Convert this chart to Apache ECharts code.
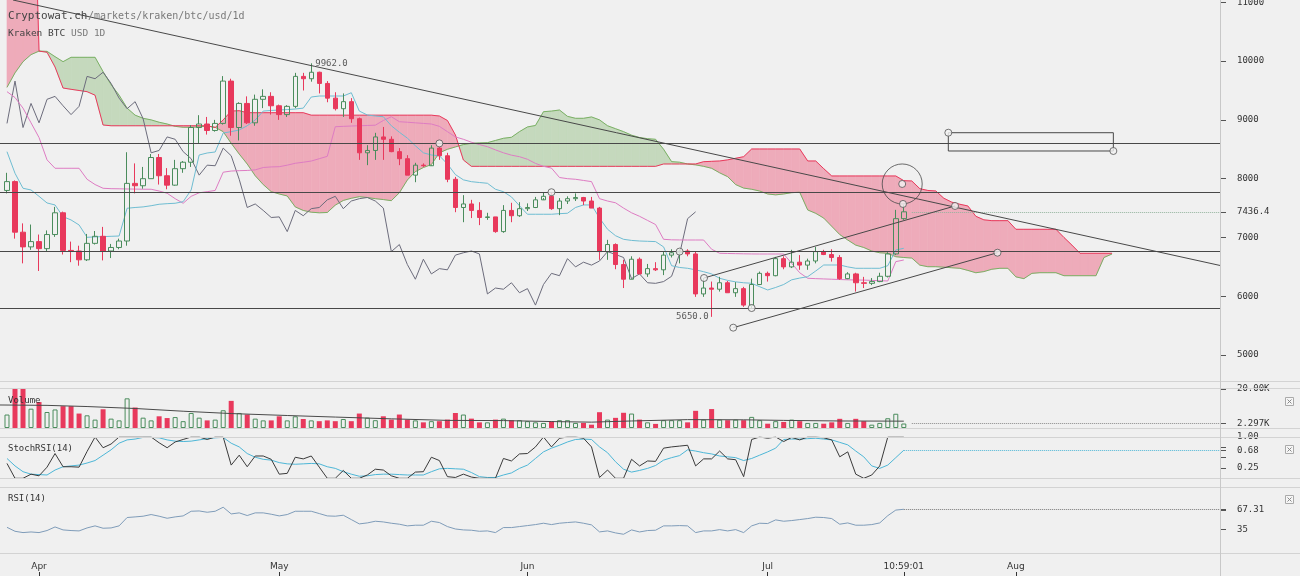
<!DOCTYPE html>
<html><head><meta charset="utf-8">
<script src="https://cdn.jsdelivr.net/npm/echarts@6.0.0/dist/echarts.min.js"></script>
<style>html,body{margin:0;padding:0;background:#f0f0f0;}#c{width:1300px;height:576px;}</style>
</head><body><div id="c"></div>
<script>
// ---- time axis (day index 0 = 2018-03-28) ----
const tickDays = [4, 34, 65, 95, 112, 126];
const tickLabels = ['Apr', 'May', 'Jun', 'Jul', '10:59:01', 'Aug'];

// ---- daily candles ----
const opens = [7800,7950,7090,6840,6930,6810,7050,7420,6780,6770,
 6620,6900,7020,6770,6830,6940,7920,7880,8000,8360,
 8050,7890,8170,8280,8870,8930,8820,8940,9660,8870,
 9280,8950,9350,9400,9240,9090,9230,9740,9700,9810,
 9620,9370,9190,9310,9020,8440,8480,8710,8670,8460,
 8340,8060,8230,8220,8520,8390,7990,7510,7570,7460,
 7340,7350,7100,7460,7370,7490,7510,7640,7700,7490,
 7620,7660,7680,7620,7500,6760,6880,6540,6290,6630,
 6380,6470,6450,6700,6740,6770,6720,6040,6140,6120,
 6230,6060,6130,5850,6200,6390,6350,6640,6500,6580,
 6530,6600,6760,6710,6660,6300,6380,6230,6220,6250,
 6340,6720,7320];
const highs = [8100,7970,7240,7220,7050,7120,7520,7440,6930,6860,
 7060,7110,7180,6890,6980,8450,8260,8200,8420,8420,
 8180,8320,8300,8910,9080,9050,9000,9745,9700,9300,
 9400,9430,9520,9470,9260,9250,9800,9800,9962,9820,
 9660,9470,9450,9370,9040,8570,8780,8880,8720,8520,
 8400,8270,8260,8570,8560,8440,8030,7720,7640,7600,
 7420,7350,7550,7590,7600,7580,7690,7760,7770,7670,
 7700,7750,7690,7690,7520,6960,6900,6620,6680,6660,
 6550,6580,6760,6800,6800,6800,6760,6310,6250,6330,
 6260,6240,6160,6300,6420,6420,6670,6680,6790,6700,
 6640,6840,6790,6800,6700,6410,6400,6330,6310,6400,
 6750,7470,7560];
const lows = [7750,6980,6560,6790,6430,6770,7010,6710,6580,6520,
 6600,6880,6610,6650,6800,6860,7750,7830,8000,7900,
 7820,7880,8100,8200,8600,8750,8800,8920,8730,8650,
 8930,8900,9200,9090,9000,9050,9200,9500,9650,9450,
 9300,9160,9050,8950,8320,8230,8320,8320,8450,8230,
 8060,7940,8200,8230,8320,7940,7430,7260,7330,7210,
 7300,7080,7080,7260,7350,7450,7500,7670,7470,7380,
 7570,7620,7550,7500,6620,6620,6460,6140,6290,6380,
 6330,6430,6360,6660,6560,6680,5990,5990,5650,6080,
 6060,5990,5820,5790,6190,6250,6340,6460,6480,6450,
 6450,6560,6700,6590,6280,6290,6080,6140,6190,6240,
 6320,6700,7300];
const closes = [7950,7090,6840,6930,6810,7050,7420,6780,6770,6620,
 6900,7020,6770,6830,6940,7920,7880,8000,8360,8050,
 7890,8170,8280,8870,8930,8820,8940,9660,8870,9280,
 8950,9350,9400,9240,9090,9230,9740,9700,9810,9620,
 9370,9190,9310,9020,8440,8480,8710,8670,8460,8340,
 8060,8230,8220,8520,8390,7990,7510,7570,7460,7340,
 7350,7100,7460,7370,7490,7510,7640,7700,7490,7620,
 7660,7680,7620,7500,6760,6880,6540,6290,6630,6380,
 6470,6450,6700,6740,6770,6720,6040,6140,6120,6230,
 6060,6130,5850,6200,6390,6350,6640,6500,6580,6530,
 6600,6760,6710,6660,6300,6380,6230,6220,6250,6340,
 6720,7320,7436.4];

// ---- volume ----
const volumes = [6900,22000,22000,9900,13300,8200,9500,11200,11200,7400,
 6500,4300,9600,4800,3900,15200,10500,5300,3900,6000,
 5100,5600,3500,7700,5300,3900,4300,9100,13900,7700,
 6900,4800,3900,3900,6000,3900,6000,4600,3900,3500,
 3900,3500,4600,3500,7400,5300,4000,6000,4300,6900,
 4300,3900,2900,3500,3500,4300,7700,6900,4800,2900,
 2900,4300,4800,4000,4000,3500,2900,2600,3500,4000,
 4000,2600,2600,1700,8100,4300,5200,7800,7400,4300,
 2900,2100,4000,4000,4000,2900,8800,4300,9700,4300,
 4000,4300,4000,5700,4000,2200,3500,3100,4300,3500,
 2600,2600,2200,2900,4700,2600,4700,3500,1700,2600,
 5000,7300,2297];
const volumeMA = [[-1,11800],[5,11600],[10,11000],[16,10000],[22,8600],[28,7400],[35,6400],[41,5600],[48,4700],[55,3900],[62,3800],[68,3300],[73,3000],[78,3600],[85,4300],[92,4200],[97,3900],[104,3600],[112,3500]];

// ---- Ichimoku ----
const tenkan = [8459,8092,7837,7808,7700,7587,7553,7354,7298,7213,
 7003,7010,7015,7020,7025,7497,7510,7520,7540,7565,
 7575,7582,7609,7808,8403,8437,8454,8777,8800,8828,
 8900,8998,9150,9160,9168,9175,9185,9200,9389,9406,
 9406,9406,9406,9462,9150,9083,9066,9054,8900,8790,
 8690,8560,8440,8403,8390,8250,8070,7980,7949,7935,
 7922,7820,7779,7690,7540,7395,7395,7395,7395,7405,
 7412,7510,7553,7553,7330,7140,7030,6969,6950,6940,
 6935,6930,6840,6520,6490,6476,6450,6418,6380,6306,
 6270,6245,6230,6221,6163,6107,6150,6200,6280,6310,
 6333,6430,6532,6532,6532,6500,6476,6476,6476,6476,
 6520,6787,6816];
const kijun = [9480,9380,9200,8950,8700,8320,8177,8177,8177,8177,
 7990,7900,7837,7830,7828,7825,7823,7821,7820,7790,
 7752,7660,7582,7700,7760,7779,7800,8110,8130,8136,
 8140,8150,8190,8200,8204,8230,8262,8280,8300,8340,
 8380,8884,8890,8896,8900,8905,8910,8990,9054,8969,
 8960,8950,8940,8930,8890,8800,8710,8670,8620,8580,
 8544,8490,8440,8400,8374,8330,8260,8210,8180,8020,
 8000,7990,7970,7950,7660,7620,7590,7500,7420,7360,
 7290,7220,6969,6960,6958,6957,6957,6957,6800,6731,
 6728,6725,6722,6720,6719,6719,6719,6719,6560,6400,
 6306,6300,6295,6290,6285,6280,6277,6275,6270,6265,
 6260,6589,6617];
const chikou = [8940,9660,8870,9280,8950,9350,9400,9240,9090,9230,
 9740,9700,9810,9620,9370,9190,9310,9020,8440,8480,
 8710,8670,8460,8340,8060,8230,8220,8520,8390,7990,
 7510,7570,7460,7340,7350,7100,7460,7370,7490,7510,
 7640,7700,7490,7620,7660,7680,7620,7500,6760,6880,
 6540,6290,6630,6380,6470,6450,6700,6740,6770,6720,
 6040,6140,6120,6230,6060,6130,5850,6200,6390,6350,
 6640,6500,6580,6530,6600,6760,6710,6660,6300,6380,
 6230,6220,6250,6340,6720,7320,7436.4];
const spanA = [9554,9800,9990,10110,10170,10165,10075,9990,10064,10064,
 10064,10064,9820,9600,9420,9200,9080,9027,9000,8960,
 8930,8890,8874,8874,8880,8896,8874,8800,8602,8420,
 8250,8050,7900,7780,7740,7706,7520,7460,7430,7420,
 7425,7550,7630,7667,7694,7680,7660,7645,7626,7760,
 7978,8120,8190,8240,8440,8500,8540,8580,8602,8608,
 8612,8650,8687,8704,8800,8880,8905,9139,9150,9168,
 9060,9027,9027,9050,9000,8900,8850,8800,8740,8700,
 8680,8670,8500,8290,8280,8250,8235,8210,8177,8100,
 8034,7900,7840,7820,7790,7740,7725,7740,7762,7770,
 7468,7411,7330,7190,7050,6957,6870,6830,6770,6740,
 6731,6673,6660,6650,6530,6503,6503,6495,6485,6476,
 6440,6400,6420,6460,6476,6476,6330,6300,6390,6401,
 6401,6401,6350,6350,6350,6350,6350,6660,6719];
const spanB = [15000,15000,15000,15000,10170,10150,9900,9542,9520,9500,
 9480,9420,8913,8900,8900,8900,8900,8900,8900,8900,
 8900,8900,8900,8900,8900,8900,8870,9000,9150,9156,
 9122,9122,9122,9122,9122,9122,9122,9122,9080,9080,
 9080,9080,9080,9080,9080,9080,9080,9080,9080,9080,
 9080,9080,9080,9080,9066,8990,8743,8318,8210,8210,
 8210,8210,8210,8210,8210,8210,8210,8210,8210,8210,
 8210,8210,8210,8210,8210,8210,8210,8210,8210,8210,
 8210,8210,8250,8250,8250,8250,8250,8289,8295,8301,
 8320,8347,8374,8505,8505,8505,8505,8505,8505,8505,
 8301,8301,8170,8046,8046,8046,8046,8046,8046,8046,
 8046,8046,7966,7961,7830,7800,7791,7667,7600,7565,
 7536,7360,7300,7286,7286,7286,7139,7139,7139,7139,
 7139,7139,7000,6870,6731,6731,6731,6731,6731];

// ---- oscillators ----
const stochK = [0.36,0,0,0.1,0.06,0.27,0.6,0.28,0.28,0.27,
 0.65,1,0.74,0.83,1,1,1,1,1,0.86,
 0.74,0.88,0.94,1,1,0.94,1,1,0.32,0.56,
 0.28,0.54,0.54,0.46,0.1,0.12,0.51,0.47,0.54,0.27,
 0,0,0.19,0,0,0.08,0.22,0.2,0.06,0,
 0,0.15,0.16,0.51,0.43,0.04,0.02,0.1,0.03,0,
 0,0,0.48,0.42,0.59,0.6,0.76,1,0.76,0.97,
 1,1,0.97,0.76,0.02,0.2,0,0,0.46,0.3,
 0.42,0.41,0.73,0.76,0.78,0.8,0.3,0.47,0.47,0.66,
 0.47,0.45,0.04,0.94,1,0.97,1,0.89,0.99,0.93,
 1,1,0.98,0.93,0.52,0.64,0.1,0,0.08,0.3,
 1,1,1];
const stochD = [0.48,0.3,0.16,0.1,0.09,0.08,0.2,0.28,0.3,0.32,
 0.37,0.43,0.56,0.69,0.85,0.93,0.95,0.99,0.99,0.98,
 0.93,0.9,0.89,0.9,0.93,0.96,0.98,0.99,0.85,0.76,
 0.6,0.51,0.46,0.44,0.38,0.35,0.34,0.35,0.36,0.35,
 0.28,0.24,0.16,0.1,0.05,0.06,0.09,0.1,0.1,0.09,
 0.08,0.08,0.08,0.16,0.23,0.24,0.23,0.22,0.14,0.04,
 0.02,0.02,0.08,0.13,0.24,0.32,0.48,0.64,0.73,0.8,
 0.88,0.94,0.95,0.94,0.76,0.62,0.4,0.22,0.15,0.19,
 0.24,0.31,0.44,0.5,0.55,0.69,0.66,0.62,0.59,0.54,
 0.52,0.5,0.43,0.48,0.56,0.64,0.73,0.94,0.95,0.95,
 0.96,0.97,0.95,0.93,0.87,0.81,0.66,0.52,0.3,0.24,
 0.32,0.5,0.68];
const rsi = [38.2,31.8,29.7,30.7,29.7,33,38.8,34,33,32.4,
 37.2,40.5,36.7,37.2,40.5,54,55,56.1,58.8,56.1,
 52.8,55,56.6,64.1,64.6,62.5,64.1,70.6,59.8,61.5,
 57.2,61.5,61.5,59.3,56.6,58.8,64.1,64.1,64.1,60.4,
 56.6,56.1,57.7,50.7,43.7,45.3,48,46.9,44.8,43.2,
 40.5,41.6,41.6,48,45.9,39.4,35.5,34,33.5,31.8,
 32.4,29.7,37.8,37.8,39.4,41,42.6,44.8,42.6,44.8,
 45.9,46.9,44.8,42.1,30.8,32.4,29.2,27,34,30.7,
 33,33.5,40.5,40.5,41,40.5,29.7,32.4,32.4,34.5,
 32.4,34.5,29.7,40.5,44.8,44.3,50.2,48,49.1,50.7,
 52.3,54.5,54,52.3,43.2,45.3,41.6,41.6,42.6,45.3,
 57,66,67.31];

// ---- axis ticks / current values ----
const priceTicks = [5000, 6000, 7000, 8000, 9000, 10000, 11000];
const lastPrice = 7436.4;
const volumeTicks = [20000];
const lastVolume = 2297;
const stochLabelTicks = [0.25, 1.0];
const stochTicks = [0.25, 0.5, 0.75, 1.0];
const lastStochD = 0.68;
const rsiTicks = [35, 65];
const lastRsi = 67.31;

// ---- user drawings on the price pane ----
const levels = [8600, 7770, 6760, 5800];
const levelHandles = [[54, 8600], [68, 7770], [84, 6760], [93, 5800]];
const trendLines = [
  [[0.75, 11039], [151.49, 6524]],
  [[87.05, 6311], [118.4, 7536]],
  [[90.7, 5466], [123.7, 6741]]
];
const trendHandles = [[87.05, 6311], [118.4, 7536], [90.7, 5466], [123.7, 6741]];
const circleCenter = [111.8, 7910];
const circleHandles = [[111.8, 7910], [111.9, 7570]];
const rectCorners = [[117.56, 8782], [138.17, 8471]];
const highMark = [38, 9962.0];
const lowMark = [88, 5650.0];

// ---- styling ----
const XMIN = -0.874, XMAX = 151.49;
const UP = '#4a8c5c', DOWN = '#e8395c';
const CLOUD_UP = '#c5d9bd', CLOUD_DN = '#eeabba';
const SPANA_C = '#7ab064', SPANB_C = '#e83a5c';
const TENKAN_C = '#6fbdd2', KIJUN_C = '#de7cc3', CHIKOU_C = '#6c6c7c';
const MONO = 'DejaVu Sans Mono';
const DRAW = '#484848';

const chart = echarts.init(document.getElementById('c'), null, {renderer: 'canvas'});

const pairs = arr => arr.map((v, i) => [i, v]);
const line = (data, color, gi, extra) => Object.assign({
  type: 'line', xAxisIndex: gi, yAxisIndex: gi, data: data, symbol: 'none', showSymbol: false,
  lineStyle: {color: color, width: 1}, silent: true, animation: false, z: 3
}, extra || {});
const dotted = (gi, v, color, fromX) => ({
  silent: true, symbol: ['none', 'none'], animation: false, label: {show: false},
  lineStyle: {type: 'dotted', color: color, width: 1},
  data: [[{coord: [fromX, v]}, {coord: [XMAX, v]}]]
});

const xAxes = [0, 1, 2, 3].map(g => ({
  type: 'value', gridIndex: g, min: XMIN, max: XMAX, show: g === 3,
  position: 'bottom', offset: 25,
  axisLine: {show: false, onZero: false}, splitLine: {show: false},
  axisTick: {show: true, inside: true, length: 4, customValues: tickDays, lineStyle: {color: '#333'}},
  axisLabel: {show: true, inside: true, margin: 5, customValues: tickDays, color: '#333',
    fontSize: 9, fontFamily: 'DejaVu Sans',
    formatter: v => tickLabels[tickDays.indexOf(Math.round(v))] || ''}
}));

const yCommon = (min, max, labelVals, tickVals, fmt) => ({
  type: 'value', position: 'right', min: min, max: max,
  axisLine: {show: false, onZero: false}, splitLine: {show: false},
  axisTick: {show: true, length: 6, customValues: tickVals, lineStyle: {color: '#555'}},
  axisLabel: {show: true, margin: 17, customValues: labelVals, formatter: fmt, color: '#333',
    fontSize: 9, fontFamily: MONO}
});

const yAxes = [
  Object.assign(yCommon(4559, 11039, priceTicks.concat([lastPrice]), priceTicks.concat([lastPrice]),
    v => (v === lastPrice ? v.toFixed(1) : String(v))), {gridIndex: 0}),
  Object.assign(yCommon(0, 20500, volumeTicks.concat([lastVolume]), volumeTicks.concat([lastVolume]),
    v => (v / 1000).toPrecision(4) + 'K'), {gridIndex: 1}),
  Object.assign(yCommon(0, 1, stochLabelTicks.concat([lastStochD]), stochTicks.concat([lastStochD]),
    v => v.toFixed(2)), {gridIndex: 2}),
  Object.assign(yCommon(0, 100, [35, lastRsi], rsiTicks.concat([lastRsi]),
    v => (v === lastRsi ? v.toFixed(2) : String(v))), {gridIndex: 3})
];

// cloud between Senkou A and B, colour switching at crossings
const cloud = {
  type: 'custom', xAxisIndex: 0, yAxisIndex: 0, clip: true, silent: true, animation: false, z: 1,
  data: spanA.map((a, i) => [i, a, spanB[i]]),
  encode: {x: 0, y: [1, 2]},
  renderItem: (params, api) => {
    const i = params.dataIndex;
    if (i >= spanA.length - 1) return null;
    const a0 = spanA[i], b0 = spanB[i], a1 = spanA[i + 1], b1 = spanB[i + 1];
    const P = (x, v) => api.coord([x, v]);
    const d0 = a0 - b0, d1 = a1 - b1;
    const col = d => (d >= 0 ? CLOUD_UP : CLOUD_DN);
    const st = c => ({fill: c, stroke: c, lineWidth: 0.6});
    if (d0 * d1 >= 0) {
      const c = col(d0 === 0 ? d1 : d0);
      return {type: 'polygon', shape: {points: [P(i, a0), P(i + 1, a1), P(i + 1, b1), P(i, b0)]}, style: st(c)};
    }
    const t = d0 / (d0 - d1);
    const xc = i + t, vc = a0 + (a1 - a0) * t;
    return {type: 'group', children: [
      {type: 'polygon', shape: {points: [P(i, a0), P(xc, vc), P(i, b0)]}, style: st(col(d0))},
      {type: 'polygon', shape: {points: [P(xc, vc), P(i + 1, a1), P(i + 1, b1)]}, style: st(col(d1))}
    ]};
  }
};

const handleStyle = {color: '#f3f3f3', borderColor: '#555', borderWidth: 1};
const last = closes.length - 1;

const series = [
  cloud,
  line(pairs(spanA), SPANA_C, 0, {z: 2}),
  line(pairs(spanB), SPANB_C, 0, {z: 2}),
  line(pairs(chikou), CHIKOU_C, 0),
  line(pairs(kijun), KIJUN_C, 0),
  line(pairs(tenkan), TENKAN_C, 0),
  {
    type: 'candlestick', xAxisIndex: 0, yAxisIndex: 0, barWidth: 5, silent: true, animation: false, z: 4,
    data: closes.map((c, i) => [i, opens[i], c, lows[i], highs[i]]),
    encode: {x: 0, y: [1, 2, 3, 4]},
    itemStyle: {color: 'rgba(0,0,0,0)', color0: DOWN, borderColor: UP, borderColor0: DOWN, borderWidth: 1},
    markLine: {
      silent: true, symbol: ['none', 'none'], animation: false, label: {show: false},
      lineStyle: {color: DRAW, width: 1, type: 'solid'},
      data: levels.map(v => ({yAxis: v})).concat([[
        {coord: [last + 1, lastPrice], lineStyle: {type: 'dotted', color: '#93b39d'}},
        {coord: [XMAX, lastPrice]}
      ]])
    }
  }
];
trendLines.forEach(tl => series.push(line(tl, DRAW, 0, {z: 5})));
series.push(line([rectCorners[0], [rectCorners[1][0], rectCorners[0][1]], rectCorners[1],
  [rectCorners[0][0], rectCorners[1][1]], rectCorners[0]], DRAW, 0, {z: 5}));
series.push({
  type: 'scatter', xAxisIndex: 0, yAxisIndex: 0, silent: true, animation: false, z: 5,
  symbol: 'circle', symbolSize: 40, data: [circleCenter],
  itemStyle: {color: 'rgba(0,0,0,0)', borderColor: DRAW, borderWidth: 1}
});
series.push({
  type: 'scatter', xAxisIndex: 0, yAxisIndex: 0, silent: true, animation: false, z: 6,
  symbol: 'circle', symbolSize: 7,
  data: levelHandles.concat(trendHandles, circleHandles, rectCorners),
  itemStyle: handleStyle
});
series.push({
  type: 'scatter', xAxisIndex: 0, yAxisIndex: 0, silent: true, animation: false, z: 6,
  symbolSize: 0, data: [highMark],
  label: {show: true, position: 'right', distance: 4, formatter: p => p.value[1].toFixed(1),
    color: '#333', fontSize: 9, fontFamily: MONO}
});
series.push({
  type: 'scatter', xAxisIndex: 0, yAxisIndex: 0, silent: true, animation: false, z: 6,
  symbolSize: 0, data: [lowMark],
  label: {show: true, position: 'left', distance: 3, formatter: p => p.value[1].toFixed(1),
    color: '#333', fontSize: 9, fontFamily: MONO}
});
// volume
series.push({
  type: 'bar', xAxisIndex: 1, yAxisIndex: 1, barWidth: 5, silent: true, animation: false, z: 3,
  data: volumes.map((v, i) => ({
    value: [i, v],
    itemStyle: closes[i] >= opens[i]
      ? {color: 'rgba(0,0,0,0)', borderColor: UP, borderWidth: 1}
      : {color: DOWN}
  })),
  markLine: dotted(1, lastVolume, '#8a8a8a', last + 1)
});
series.push(line(volumeMA, '#4a4a4a', 1, {z: 4}));
// stoch RSI
series.push(line(pairs(stochD), '#4db6d6', 2, {markLine: dotted(2, lastStochD, '#4db6d6', last)}));
series.push(line(pairs(stochK), '#3a3a3a', 2, {z: 4, markLine: dotted(2, stochK[last], '#777', last)}));
// RSI
series.push(line(pairs(rsi), '#7f9cb9', 3, {markLine: dotted(3, lastRsi, '#777', last)}));

// static frame: pane borders, price-axis rule, labels, close boxes
const W = 1300;
const hl = y => ({type: 'line', z: 50, shape: {x1: 0, y1: y + 0.5, x2: W, y2: y + 0.5}, style: {stroke: '#d3d3d3', lineWidth: 1}, silent: true});
const closeBox = cy => ({type: 'group', z: 100, x: 1285, y: cy - 4, silent: true, children: [
  {type: 'rect', z: 100, shape: {x: 0.5, y: 0.5, width: 8, height: 8}, style: {fill: '#f6f6f6', stroke: '#aaa', lineWidth: 1}},
  {type: 'line', z: 101, shape: {x1: 2.5, y1: 2.5, x2: 6.5, y2: 6.5}, style: {stroke: '#888', lineWidth: 1}},
  {type: 'line', z: 101, shape: {x1: 6.5, y1: 2.5, x2: 2.5, y2: 6.5}, style: {stroke: '#888', lineWidth: 1}}
]});
const label = (x, y, text, size, fill) => ({type: 'text', z: 100, x: x, y: y, silent: true,
  style: {text: text, fill: fill || '#333', font: (size || 9) + 'px "' + MONO + '"', verticalAlign: 'middle'}});

const graphic = [
  hl(381), hl(388), hl(428), hl(437), hl(478), hl(487), hl(553),
  {type: 'line', z: 50, shape: {x1: 1220.5, y1: 0, x2: 1220.5, y2: 576}, style: {stroke: '#c8c8c8', lineWidth: 1}, silent: true},
  label(8, 16, 'Cryptowat.ch', 11, '#444'),
  label(88, 16, '/markets/kraken/btc/usd/1d', 10, '#7a7a7a'),
  label(8, 34, 'Kraken BTC', 9.5, '#444'),
  label(71, 34, 'USD 1D', 9.5, '#7a7a7a'),
  label(8, 401, 'Volume'),
  label(8, 449, 'StochRSI(14)'),
  label(8, 499, 'RSI(14)'),
  closeBox(401), closeBox(449), closeBox(499)
];

chart.setOption({
  backgroundColor: '#f0f0f0',
  animation: false,
  grid: [
    {left: 0, right: 80, top: 0, height: 381, outerBoundsMode: 'none'},
    {left: 0, right: 80, top: 388, height: 40, outerBoundsMode: 'none'},
    {left: 0, right: 80, top: 437, height: 41.3, outerBoundsMode: 'none'},
    {left: 0, right: 80, top: 489, height: 62, outerBoundsMode: 'none'}
  ],
  xAxis: xAxes,
  yAxis: yAxes,
  series: series,
  graphic: {elements: graphic}
});
</script>
</body></html>
